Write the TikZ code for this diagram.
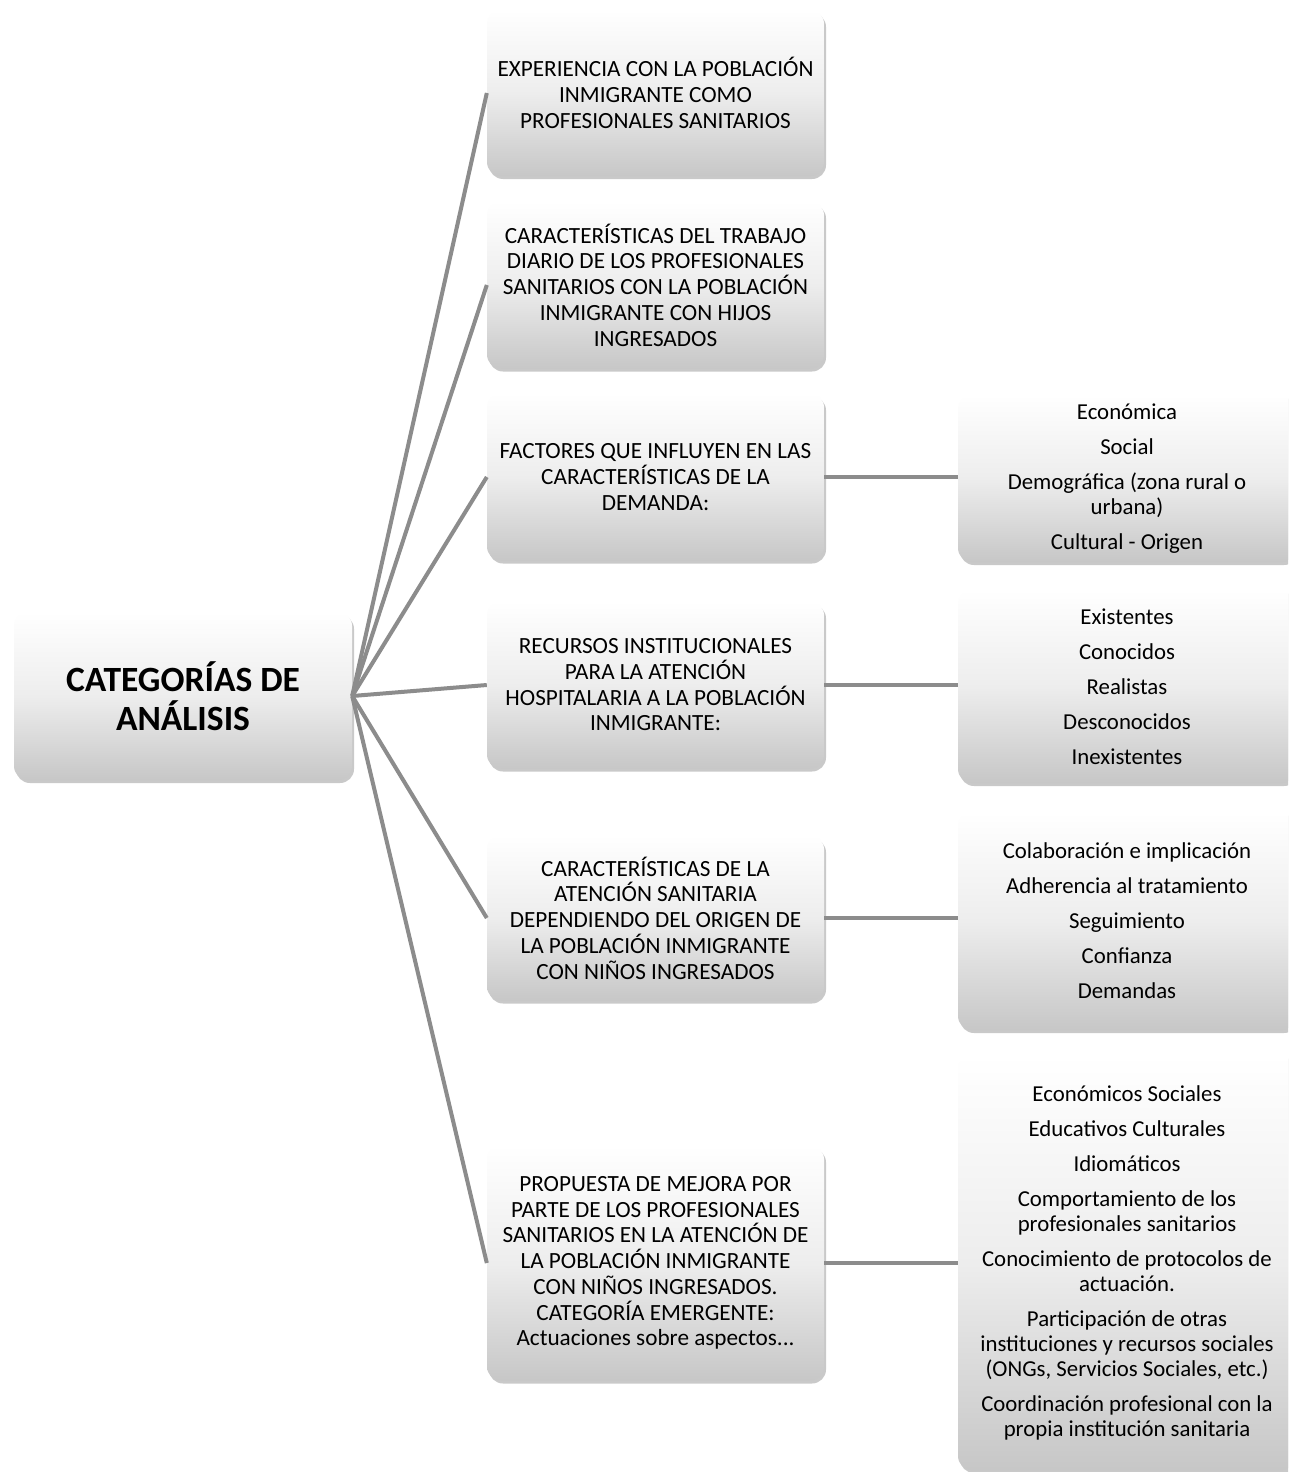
\documentclass[tikz,border=0pt]{standalone}
\usepackage{fontspec}
\setmainfont{Carlito}
\usetikzlibrary{shadows}
\definecolor{linegray}{HTML}{8C8C8C}
\tikzset{
  box/.style={rounded corners=14pt, top color=white, bottom color=black!22,
    middle color=black!7, draw=none,
    drop shadow={shadow xshift=2pt, shadow yshift=-3pt, opacity=0.35, fill=black!60},
    align=center, inner sep=4pt},
  midbox/.style={box, minimum width=337pt,
    font=\fontsize{23.2}{25.7}\selectfont},
  rightbox/.style={box, minimum width=338pt,
    font=\fontsize{22.8}{25}\selectfont},
  rootbox/.style={box, minimum width=338pt, minimum height=168pt,
    font=\fontsize{35.5}{39}\selectfont\bfseries},
  conn/.style={draw=linegray, line width=4pt}
}
\begin{document}
\begin{tikzpicture}[x=1pt,y=-1pt]
\useasboundingbox (0,0) rectangle (1288,1472);
\fill[white] (0,0) rectangle (1288,1472);
\clip (0,0) rectangle (1288,1472);

\node[rootbox] (root) at (183,696) {CATEGORÍAS DE\\ANÁLISIS};

\node[midbox, minimum height=166pt] (m1) at (655.5,93) {EXPERIENCIA CON LA POBLACIÓN\\INMIGRANTE COMO\\PROFESIONALES SANITARIOS};
\node[midbox, minimum height=167pt] (m2) at (655.5,285) {CARACTERÍSTICAS DEL TRABAJO\\DIARIO DE LOS PROFESIONALES\\SANITARIOS CON LA POBLACIÓN\\INMIGRANTE CON HIJOS\\INGRESADOS};
\node[midbox, minimum height=167pt] (m3) at (655.5,477) {FACTORES QUE INFLUYEN EN LAS\\CARACTERÍSTICAS DE LA\\DEMANDA:};
\node[midbox, minimum height=167pt] (m4) at (655.5,685) {RECURSOS INSTITUCIONALES\\PARA LA ATENCIÓN\\HOSPITALARIA A LA POBLACIÓN\\INMIGRANTE:};
\node[midbox, minimum height=165pt] (m5) at (655.5,918) {CARACTERÍSTICAS DE LA\\ATENCIÓN SANITARIA\\DEPENDIENDO DEL ORIGEN DE\\LA POBLACIÓN INMIGRANTE\\CON NIÑOS INGRESADOS};
\node[midbox, minimum height=235pt] (m6) at (655.5,1263) {PROPUESTA DE MEJORA POR\\PARTE DE LOS PROFESIONALES\\SANITARIOS EN LA ATENCIÓN DE\\LA POBLACIÓN INMIGRANTE\\CON NIÑOS INGRESADOS.\\CATEGORÍA EMERGENTE:\\Actuaciones sobre aspectos...};

\node[rightbox, minimum height=167pt] (r3) at (1127,478.5) {Económica\\[10pt]Social\\[10pt]Demográfica (zona rural o\\urbana)\\[10pt]Cultural - Origen};
\node[rightbox, minimum height=193pt] (r4) at (1127,686.5) {Existentes\\[10pt]Conocidos\\[10pt]Realistas\\[10pt]Desconocidos\\[10pt]Inexistentes};
\node[rightbox, minimum height=218pt] (r5) at (1127,921) {Colaboración e implicación\\[10pt]Adherencia al tratamiento\\[10pt]Seguimiento\\[10pt]Confianza\\[10pt]Demandas};
\node[rightbox, minimum height=415pt] (r6) at (1127,1262.5) {Económicos Sociales\\[10pt]Educativos Culturales\\[10pt]Idiomáticos\\[10pt]Comportamiento de los\\profesionales sanitarios\\[10pt]Conocimiento de protocolos de\\actuación.\\[10pt]Participación de otras\\instituciones y recursos sociales\\(ONGs, Servicios Sociales, etc.)\\[10pt]Coordinación profesional con la\\propia institución sanitaria};

\foreach \m in {m1,m2,m3,m4,m5,m6}{
  \draw[conn] (root.east) -- (\m.west);
}
\draw[conn] (m3.east) -- (m3.east -| r3.west);
\draw[conn] (m4.east) -- (m4.east -| r4.west);
\draw[conn] (m5.east) -- (m5.east -| r5.west);
\draw[conn] (m6.east) -- (m6.east -| r6.west);
\end{tikzpicture}
\end{document}
